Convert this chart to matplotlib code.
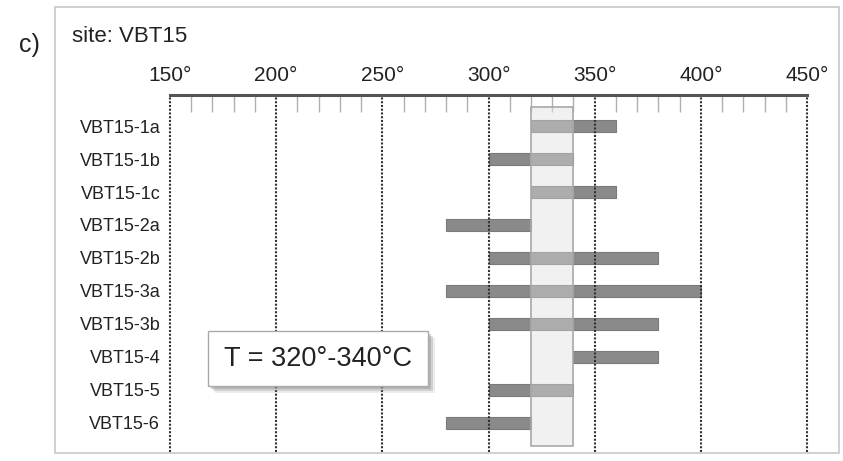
import matplotlib
matplotlib.use("Agg")
import matplotlib.pyplot as plt
from matplotlib.patches import Rectangle, FancyBboxPatch
from matplotlib import font_manager as fm

samples = ["VBT15-1a", "VBT15-1b", "VBT15-1c", "VBT15-2a", "VBT15-2b",
           "VBT15-3a", "VBT15-3b", "VBT15-4", "VBT15-5", "VBT15-6"]
t_start = [320, 300, 320, 280, 300, 280, 300, 340, 300, 280]
t_end = [360, 340, 360, 320, 380, 400, 380, 380, 340, 320]
major_ticks = [150, 200, 250, 300, 350, 400, 450]
tick_labels = ["150°", "200°", "250°", "300°", "350°", "400°", "450°"]
band = [320, 340]
site = "site: VBT15"
panel = "c)"
band_label = "T = 320°-340°C"

names = {f.name for f in fm.fontManager.ttflist}
fam = "Liberation Sans Narrow" if "Liberation Sans Narrow" in names else "Liberation Sans"
plt.rcParams['font.family'] = [fam, 'DejaVu Sans']

W, H = 843, 461
fig = plt.figure(figsize=(W / 100, H / 100), dpi=100)

# outer frame
frame = Rectangle((55 / W, 1 - 453 / H), (839 - 55) / W, (453 - 7) / H,
                  transform=fig.transFigure, fill=False, edgecolor="#c8c8c8", lw=1.2)
fig.patches.append(frame)
fig.text(19 / W, 1 - 45 / H, panel, fontsize=18, va="center", ha="left", color="#222222")
fig.text(72 / W, 1 - 36 / H, site, fontsize=16, va="center", ha="left", color="#222222")

ax = fig.add_axes([170 / W, 1 - 452 / H, (807 - 170) / W, (452 - 95) / H])
ax.set_xlim(150, 450)
ax.set_ylim(9.88, -0.94)

for s in ["left", "right", "bottom"]:
    ax.spines[s].set_visible(False)
ax.spines["top"].set_color("#555555")
ax.spines["top"].set_linewidth(2.2)
ax.spines["top"].set_zorder(6)

ax.xaxis.tick_top()
ax.set_xticks(major_ticks)
ax.set_xticklabels(tick_labels, fontsize=15, color="#222222")
ax.set_xticks([v for v in range(150, 451, 10) if v % 50 != 0], minor=True)
ax.tick_params(axis="x", which="major", length=0, pad=7)
ax.tick_params(axis="x", which="minor", direction="in", length=12, width=1, color="#b0b0b0")

ax.set_yticks(range(len(samples)))
ax.set_yticklabels(samples, fontsize=13, color="#222222")
ax.tick_params(axis="y", length=0, pad=7)

# highlight band background
ax.add_patch(Rectangle((band[0], -0.57), band[1] - band[0], 10.27,
                       facecolor="#ececec", edgecolor="none", zorder=1))

for i, (a, b) in enumerate(zip(t_start, t_end)):
    ax.barh(i, b - a, left=a, height=0.34, color="#8a8a8a",
            edgecolor="#7a7a7a", lw=0.8, zorder=2)

# translucent overlay of the band
ax.add_patch(Rectangle((band[0], -0.57), band[1] - band[0], 10.27,
                       facecolor="white", alpha=0.3, edgecolor="none", zorder=3))
ax.add_patch(Rectangle((band[0], -0.57), band[1] - band[0], 10.27,
                       facecolor="none", edgecolor="#a8a8a8", lw=1.2, zorder=3))

for v in major_ticks:
    ax.axvline(v, color="#333333", lw=1.5, ls=(0, (1, 0.8)), zorder=4, clip_on=False)

# label box with soft shadow
bx0, bx1 = 208, 428
by0, by1 = 331, 386
for k, al in [(7, 0.15), (5, 0.25), (3, 0.35)]:
    sh = FancyBboxPatch(((bx0 + k) / W, 1 - (by1 + k) / H), (bx1 - bx0) / W, (by1 - by0) / H,
                        boxstyle="square,pad=0", transform=fig.transFigure,
                        facecolor="#808080", edgecolor="none", alpha=al, zorder=5)
    fig.patches.append(sh)
box = FancyBboxPatch((bx0 / W, 1 - by1 / H), (bx1 - bx0) / W, (by1 - by0) / H,
                     boxstyle="square,pad=0", transform=fig.transFigure,
                     facecolor="white", edgecolor="#aaaaaa", lw=1, zorder=6)
fig.patches.append(box)
fig.text((bx0 + bx1) / 2 / W, 1 - (by0 + by1) / 2 / H, band_label, fontsize=19.5,
         ha="center", va="center", color="#222222", zorder=7)

fig.savefig("out.png", dpi=100)
